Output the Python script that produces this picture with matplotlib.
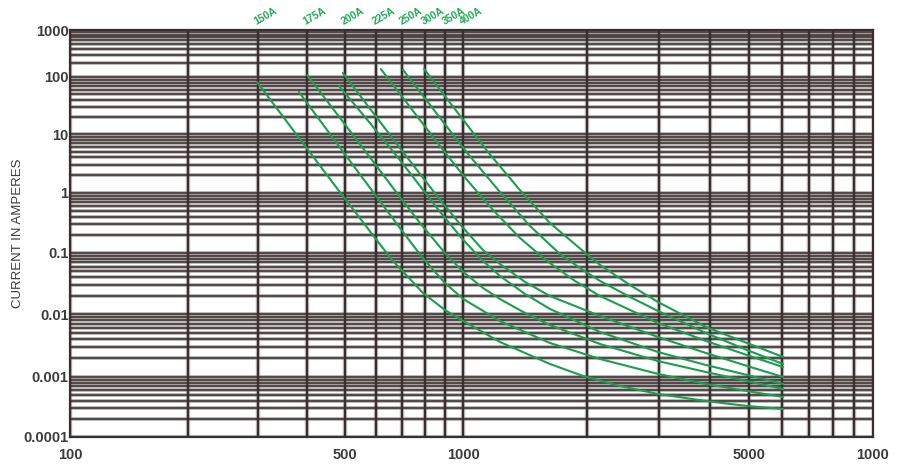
import numpy as np
import matplotlib
matplotlib.use("Agg")
import matplotlib.pyplot as plt
from matplotlib.ticker import FixedLocator

plt.rcParams['font.family'] = ['Liberation Sans', 'DejaVu Sans']

# ---------------- data ----------------
rating_labels = ["150A", "175A", "200A", "225A", "250A", "300A", "350A", "400A"]
label_x = [300, 400, 500, 600, 700, 800, 900, 1000]

x_a = [299, 384, 494, 659, 790, 898, 1000, 1229, 1628, 1960, 2414, 2990, 3915, 4930, 6040]
y_a = [81.7, 8.23, 0.891, 0.0767, 0.0221, 0.01164, 0.00774, 0.0036, 0.00161, 0.00104,
       0.000708, 0.000521, 0.000398, 0.000329, 0.000293]

x_b = [382, 515, 690, 785, 898, 1000, 1229, 1628, 2158, 2990, 3915, 4930, 6040]
y_b = [54.6, 3.49, 0.261, 0.086, 0.0322, 0.0176, 0.00774, 0.00347, 0.00193, 0.00112,
       0.000764, 0.000585, 0.000464]

x_c = [401, 515, 690, 776, 898, 1000, 1117, 1229, 1415, 1628, 2158, 2990, 3915, 4930, 6040]
y_c = [110, 11.3, 0.858, 0.316, 0.1, 0.0489, 0.0267, 0.0176, 0.0104, 0.00668, 0.00334,
       0.00179, 0.0012, 0.000858, 0.00063]

x_d = [483, 579, 690, 873, 1000, 1117, 1229, 1415, 1628, 2158, 2990, 3915, 4930, 6040]
y_d = [69.5, 15.6, 3.62, 0.482, 0.165, 0.074, 0.042, 0.0213, 0.0121, 0.00518, 0.00249,
       0.00155, 0.00108, 0.000764]

x_e = [494, 690, 873, 1000, 1117, 1229, 1415, 1628, 2158, 2990, 3915, 4930, 6040]
y_e = [122, 5.79, 0.765, 0.261, 0.112, 0.066, 0.0335, 0.0197, 0.0093, 0.00431, 0.0024,
       0.0015, 0.001]

x_f = [617, 776, 909, 1021, 1182, 1375, 1601, 1874, 2158, 2990, 3915, 4930, 6040]
y_f = [148, 17.6, 4.41, 1.66, 0.521, 0.178, 0.074, 0.0348, 0.0197, 0.0072, 0.00373,
       0.00223, 0.00144]

x_g = [703, 873, 1027, 1229, 1455, 1722, 1960, 2158, 2554, 2990, 3915, 4930, 6040]
y_g = [141, 19.1, 4.58, 1.04, 0.282, 0.0963, 0.0526, 0.0348, 0.019, 0.0112, 0.00499,
       0.00268, 0.00161]

x_h = [795, 1000, 1149, 1375, 1628, 1960, 2158, 2554, 2990, 3915, 4930, 6040]
y_h = [148, 17.6, 4.95, 1.12, 0.316, 0.108, 0.0636, 0.0298, 0.0157, 0.00622, 0.00347,
       0.00208]

curves = [(x_a, y_a), (x_b, y_b), (x_c, y_c), (x_d, y_d),
          (x_e, y_e), (x_f, y_f), (x_g, y_g), (x_h, y_h)]

x_tick_vals = [100, 500, 1000, 5000, 10000]
x_tick_labels = ["100", "500", "1000", "5000", "1000"]
y_tick_vals = [0.0001, 0.001, 0.01, 0.1, 1, 10, 100, 1000]
y_tick_labels = ["0.0001", "0.001", "0.01", "0.1", "1", "10", "100", "1000"]

# ------------- axis geometry of the printed chart (slightly uneven decades) -------------
Y_DEC = np.array([-4, -3, -2, -1, 0, 1, 2, 3], dtype=float)
Y_POS = np.array([-437, -377, -314, -253, -193, -134, -77, -30], dtype=float)
X_DEC = np.array([2, 3, 4], dtype=float)
X_POS = np.array([70, 463.3, 872.7], dtype=float)


def fy(v):
    v = np.asarray(v, dtype=float)
    return np.interp(np.log10(np.clip(v, 1e-30, None)), Y_DEC, Y_POS)


def iy(p):
    return 10 ** np.interp(np.asarray(p, dtype=float), Y_POS, Y_DEC)


def fx(v):
    v = np.asarray(v, dtype=float)
    return np.interp(np.log10(np.clip(v, 1e-30, None)), X_DEC, X_POS)


def ix(p):
    return 10 ** np.interp(np.asarray(p, dtype=float), X_POS, X_DEC)


W, H = 902, 471
fig = plt.figure(figsize=(W / 100, H / 100), dpi=100)
ax = fig.add_axes([70 / W, (H - 437) / H, (872.7 - 70) / W, (437 - 30) / H])
ax.set_xscale('function', functions=(fx, ix))
ax.set_yscale('function', functions=(fy, iy))
ax.set_xlim(100, 10000)
ax.set_ylim(0.0001, 1000)

grid_col = '#3a2f2f'
halo_col = '#8f8787'
# horizontal grid
for e in range(-4, 3):
    for k in range(1, 10):
        v = k * 10.0 ** e
        ax.axhline(v, color=halo_col, lw=2.8, alpha=0.6, zorder=1)
for e in range(-4, 3):
    for k in range(1, 10):
        v = k * 10.0 ** e
        ax.axhline(v, color=grid_col, lw=1.15, zorder=2)
ax.axhline(1000, color=grid_col, lw=1.3, zorder=2)
# vertical grid
for e in range(2, 4):
    for k in range(1, 10):
        v = k * 10.0 ** e
        ax.axvline(v, color=halo_col, lw=3.2, alpha=0.5, zorder=1)
        ax.axvline(v, color=grid_col, lw=1.6, zorder=2)
ax.axvline(10000, color=grid_col, lw=1.6, zorder=2)

for xs, ys in curves:
    ax.plot(xs, ys, color='#18a04d', lw=1.5, zorder=4,
            solid_capstyle='round', solid_joinstyle='round')

for lab, xv in zip(rating_labels, label_x):
    ax.annotate(lab, xy=(xv, 1000), xytext=(0, 2.5), textcoords='offset points',
                rotation=30, rotation_mode='anchor', ha='left', va='bottom',
                color='#20a853', fontsize=7.5, fontweight='bold',
                annotation_clip=False)

ax.xaxis.set_major_locator(FixedLocator(x_tick_vals))
ax.set_xticklabels(x_tick_labels)
ax.xaxis.set_minor_locator(FixedLocator([]))
ax.yaxis.set_major_locator(FixedLocator(y_tick_vals))
ax.set_yticklabels(y_tick_labels)
ax.yaxis.set_minor_locator(FixedLocator([]))
ax.tick_params(axis='both', length=0, labelsize=10.5, labelcolor='#3c3c3c')
ax.tick_params(axis='y', pad=1)
ax.tick_params(axis='x', pad=8)
for t in ax.get_xticklabels() + ax.get_yticklabels():
    t.set_fontweight('bold')

for s in ax.spines.values():
    s.set_color(grid_col)
    s.set_linewidth(1.6)
    s.set_zorder(3)

ax.set_ylabel("CURRENT IN AMPERES", fontsize=9.5, color='#3c3c3c', labelpad=-0.5)

fig.savefig("out.png", dpi=100, facecolor='white')
